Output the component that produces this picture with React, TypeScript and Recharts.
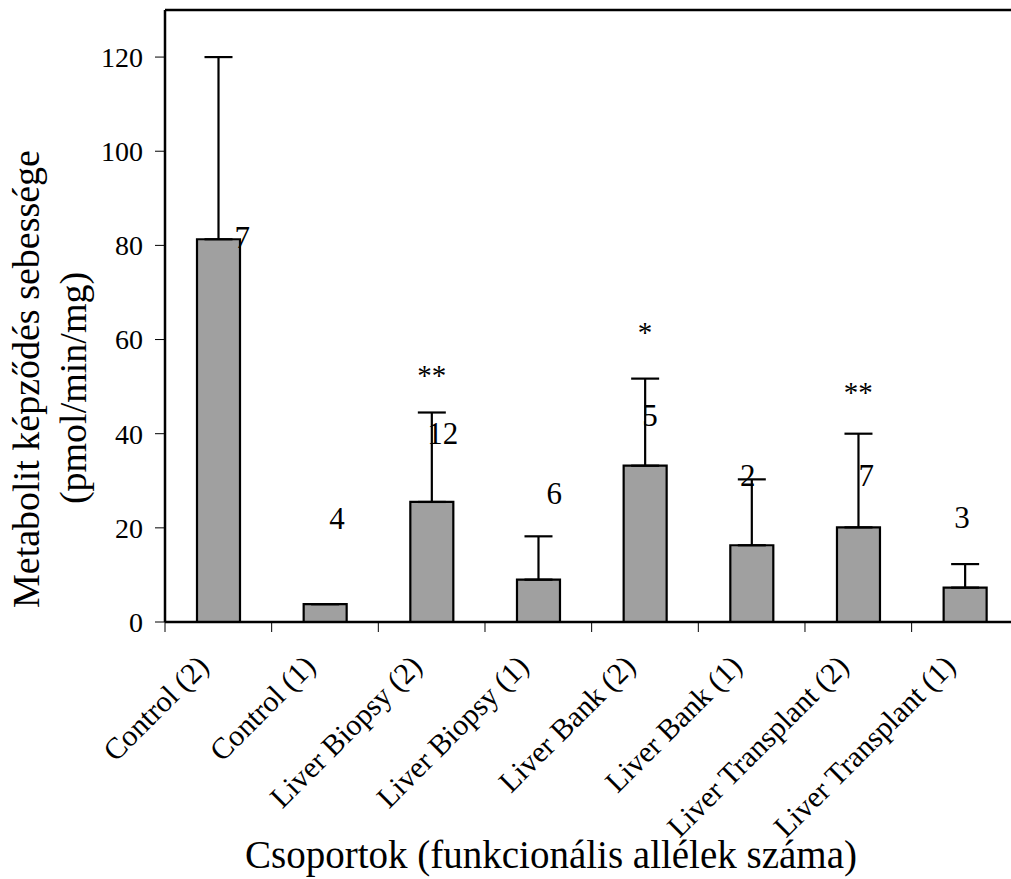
import React from "react";
import {
  ComposedChart,
  Bar,
  ErrorBar,
  Scatter,
  XAxis,
  YAxis,
} from "recharts";

// csoportok (funkcionális allélek száma)
const groups = [
  "Control (2)",
  "Control (1)",
  "Liver Biopsy (2)",
  "Liver Biopsy (1)",
  "Liver Bank (2)",
  "Liver Bank (1)",
  "Liver Transplant (2)",
  "Liver Transplant (1)",
];
// átlag metabolit képződés (pmol/min/mg)
const means = [81.3, 3.8, 25.5, 9.0, 33.2, 16.3, 20.1, 7.3];
// felső SD
const sdUp = [38.7, 0, 19.0, 9.2, 18.5, 14.0, 19.9, 5.0];
// mintaszám (n) és a felirat magassága
const nCount = ["7", "4", "12", "6", "5", "2", "7", "3"];
const nAt = [81.7, 22.0, 40.1, 27.3, 43.9, 31.2, 31.2, 22.2];
// szignifikancia jelölés
const stars = ["", "", "**", "", "*", "", "**", ""];
const starAt = [null, null, 52.5, null, 61.5, null, 48.9, null];

const yTicks = [0, 20, 40, 60, 80, 100, 120];

const rows = groups.map((g, i) => ({
  group: g,
  mean: means[i],
  err: [0, sdUp[i]],
  n: nCount[i],
  nAt: nAt[i],
  star: stars[i],
  starAt: starAt[i],
}));

// small hand placement of the n labels, like in the original
const nShift = [24, 12, 11, 16, 5, -4, 8, -3];

const FONT = '"Liberation Serif", "Times New Roman", serif';

const CHART_W = 1011;
// plot area runs past the right edge of the picture, as in the original
const MARGIN = { top: 10, right: -7.3, bottom: 0, left: 0 };
const Y_W = 165;
const HALF_BAND = (CHART_W - MARGIN.right - Y_W) / groups.length / 2;

// category label + tick marks on the band edges (Excel style)
const CategoryTick = ({ x, y, payload, index }: any) => {
  const tx = x - 8;
  const ty = y + 46;
  const last = index === groups.length - 1;
  return (
    <g>
      <line x1={x - HALF_BAND} x2={x - HALF_BAND} y1={y} y2={y + 10} stroke="#000" strokeWidth={1} />
      {last && (
        <line x1={x + HALF_BAND} x2={x + HALF_BAND} y1={y} y2={y + 10} stroke="#000" strokeWidth={1} />
      )}
      <text
        x={tx}
        y={ty}
        transform={`rotate(-45, ${tx}, ${ty})`}
        textAnchor="end"
        fontFamily={FONT}
        fontSize={30}
        fill="#000"
      >
        {payload.value}
      </text>
    </g>
  );
};

const CountLabel = (props: any) => {
  const { cx, cy, payload } = props;
  if (cy == null || isNaN(cy)) return null;
  const i = groups.indexOf(payload.group);
  return (
    <text
      x={cx + nShift[i]}
      y={cy}
      textAnchor="middle"
      dominantBaseline="central"
      fontFamily={FONT}
      fontSize={31}
      fill="#000"
    >
      {payload.n}
    </text>
  );
};

const StarLabel = (props: any) => {
  const { cx, cy, payload } = props;
  if (!payload.star || cy == null || isNaN(cy)) return null;
  return (
    <text
      x={cx}
      y={cy}
      textAnchor="middle"
      dominantBaseline="central"
      fontFamily={FONT}
      fontSize={29}
      fill="#000"
    >
      {payload.star}
    </text>
  );
};

// y axis title (two lines) and the top frame line of the plot area
const YTitle = () => (
  <g>
    <line x1={Y_W} x2={CHART_W} y1={MARGIN.top} y2={MARGIN.top} stroke="#000" strokeWidth={2.5} />
    <g fontFamily={FONT} fontSize={38} fill="#000">
      <text x={39} y={379} transform="rotate(-90, 39, 379)" textAnchor="middle">
        Metabolit képződés sebessége
      </text>
      <text x={86} y={388} transform="rotate(-90, 86, 388)" textAnchor="middle">
        (pmol/min/mg)
      </text>
    </g>
  </g>
);

export default function App() {
  return (
    <div
      style={{
        position: "absolute",
        left: 0,
        top: 0,
        width: 1011,
        height: 879,
        overflow: "hidden",
        background: "#fff",
      }}
    >
      <ComposedChart width={CHART_W} height={879} data={rows} margin={MARGIN}>
        <XAxis
          dataKey="group"
          interval={0}
          height={257}
          axisLine={{ stroke: "#000", strokeWidth: 2.5 }}
          tickLine={false}
          tickSize={0}
          tickMargin={0}
          tick={<CategoryTick />}
          label={{ content: () => (
            <text x={551} y={868} textAnchor="middle" fontFamily={FONT} fontSize={39} fill="#000">
              Csoportok (funkcionális allélek száma)
            </text>
          ) }}
        />
        <YAxis
          width={Y_W}
          domain={[0, 130]}
          ticks={yTicks}
          allowDataOverflow
          tickSize={10}
          tickMargin={12}
          axisLine={{ stroke: "#000", strokeWidth: 2.5 }}
          tickLine={{ stroke: "#000", strokeWidth: 1 }}
          tick={{ fontFamily: FONT, fontSize: 28, fill: "#000" }}
          label={{ content: () => <YTitle /> }}
        />
        <Bar
          dataKey="mean"
          barSize={43}
          fill="#a0a0a0"
          stroke="#000"
          strokeWidth={2.2}
          isAnimationActive={false}
        >
          <ErrorBar dataKey="err" width={14} stroke="#000" strokeWidth={2.2} />
        </Bar>
        <Scatter dataKey="nAt" shape={<CountLabel />} isAnimationActive={false} />
        <Scatter dataKey="starAt" shape={<StarLabel />} isAnimationActive={false} />
      </ComposedChart>
    </div>
  );
}
